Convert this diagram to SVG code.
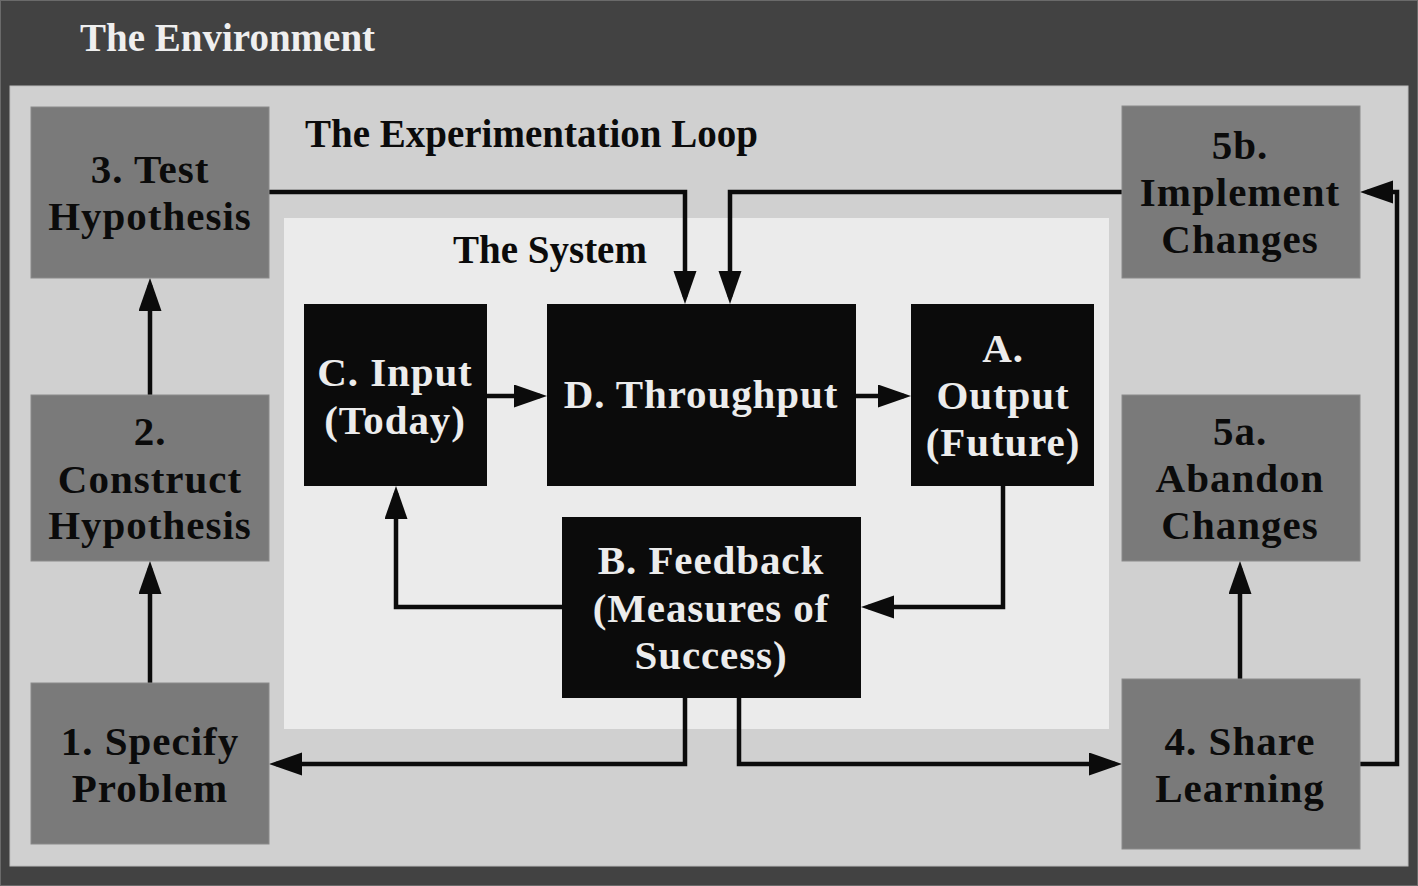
<svg xmlns="http://www.w3.org/2000/svg" width="1418" height="886" viewBox="0 0 1418 886">
<style>
.env{fill:#424242}
.loop{fill:#d0d0d0;stroke:#bdbdbd;stroke-width:1}
.sys{fill:#ebebeb}
.gnode{fill:#7a7a7a;stroke:#8a8a8a;stroke-width:1}
.bnode{fill:#0b0b0b}
text{font-family:"Liberation Serif","Times New Roman",serif;font-weight:bold;text-anchor:middle}
.t-dark{fill:#0b0b0b;font-size:41px;letter-spacing:1px}
.t-light{fill:#ececec;font-size:41px;letter-spacing:0.9px}
.title{font-size:39px;text-anchor:start}
.conn{fill:none;stroke:#0b0b0b;stroke-width:4.5;stroke-linejoin:miter}
</style>
<defs>
<marker id="arr" markerUnits="userSpaceOnUse" markerWidth="34" markerHeight="24" refX="26" refY="11.5" orient="auto">
<path d="M0,0 L33,11.5 L0,23 Z" fill="#0b0b0b"/>
</marker>
</defs>
<rect class="env" x="0" y="0" width="1418" height="886"/>
<rect x="0.5" y="0.5" width="1417" height="885" fill="none" stroke="#6a6a6a" stroke-width="1"/>
<text class="title" x="80" y="51" fill="#efefef">The Environment</text>
<rect class="loop" x="10" y="86" width="1398" height="780"/>
<text class="title" x="305" y="147" fill="#0b0b0b">The Experimentation Loop</text>
<rect class="sys" x="284" y="218" width="825" height="511"/>
<text class="title" x="453" y="263" fill="#0b0b0b">The System</text>

<g id="connectors">
<path class="conn" d="M269,192 H685 V297" marker-end="url(#arr)"/>
<path class="conn" d="M1122,192 H730 V297" marker-end="url(#arr)"/>
<path class="conn" d="M150,683 V568" marker-end="url(#arr)"/>
<path class="conn" d="M150,395 V285" marker-end="url(#arr)"/>
<path class="conn" d="M487,396 H540" marker-end="url(#arr)"/>
<path class="conn" d="M856,396 H904" marker-end="url(#arr)"/>
<path class="conn" d="M1003,486 V607 H868" marker-end="url(#arr)"/>
<path class="conn" d="M562,607 H396 V493" marker-end="url(#arr)"/>
<path class="conn" d="M685,698 V764 H276" marker-end="url(#arr)"/>
<path class="conn" d="M739,698 V764 H1115" marker-end="url(#arr)"/>
<path class="conn" d="M1360,764 H1397 V192 H1367" marker-end="url(#arr)"/>
<path class="conn" d="M1240,679 V568" marker-end="url(#arr)"/>
</g>

<g id="node-test">
<rect class="gnode" x="31" y="107" width="238" height="171"/>
<text class="t-dark" x="150" y="183">3. Test</text>
<text class="t-dark" x="150" y="230">Hypothesis</text>
</g>
<g id="node-construct">
<rect class="gnode" x="31" y="395" width="238" height="166"/>
<text class="t-dark" x="150" y="445">2.</text>
<text class="t-dark" x="150" y="493">Construct</text>
<text class="t-dark" x="150" y="539">Hypothesis</text>
</g>
<g id="node-specify">
<rect class="gnode" x="31" y="683" width="238" height="161"/>
<text class="t-dark" x="150" y="755">1. Specify</text>
<text class="t-dark" x="150" y="802">Problem</text>
</g>
<g id="node-implement">
<rect class="gnode" x="1122" y="106" width="238" height="172"/>
<text class="t-dark" x="1240" y="159">5b.</text>
<text class="t-dark" x="1240" y="206">Implement</text>
<text class="t-dark" x="1240" y="253">Changes</text>
</g>
<g id="node-abandon">
<rect class="gnode" x="1122" y="395" width="238" height="166"/>
<text class="t-dark" x="1240" y="445">5a.</text>
<text class="t-dark" x="1240" y="492">Abandon</text>
<text class="t-dark" x="1240" y="539">Changes</text>
</g>
<g id="node-share">
<rect class="gnode" x="1122" y="679" width="238" height="170"/>
<text class="t-dark" x="1240" y="755">4. Share</text>
<text class="t-dark" x="1240" y="802">Learning</text>
</g>
<g id="node-input">
<rect class="bnode" x="304" y="304" width="183" height="182"/>
<text class="t-light" x="395" y="386">C. Input</text>
<text class="t-light" x="395" y="434">(Today)</text>
</g>
<g id="node-throughput">
<rect class="bnode" x="547" y="304" width="309" height="182"/>
<text class="t-light" x="701" y="408">D. Throughput</text>
</g>
<g id="node-output">
<rect class="bnode" x="911" y="304" width="183" height="182"/>
<text class="t-light" x="1003" y="362">A.</text>
<text class="t-light" x="1003" y="409">Output</text>
<text class="t-light" x="1003" y="456">(Future)</text>
</g>
<g id="node-feedback">
<rect class="bnode" x="562" y="517" width="299" height="181"/>
<text class="t-light" x="711" y="574">B. Feedback</text>
<text class="t-light" x="711" y="622">(Measures of</text>
<text class="t-light" x="711" y="669">Success)</text>
</g>
</svg>
